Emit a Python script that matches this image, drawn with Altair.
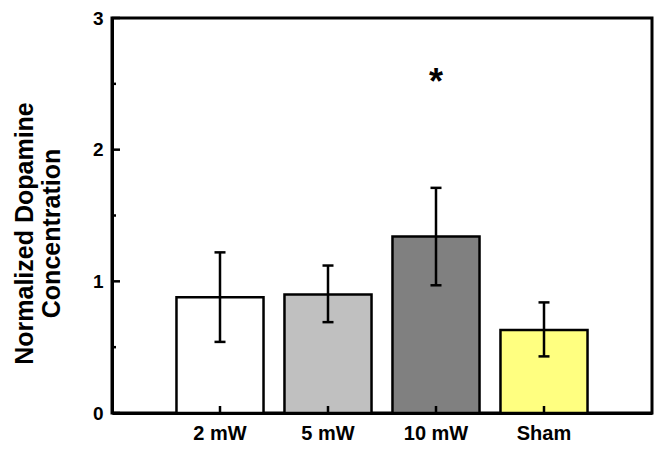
import altair as alt
import pandas as pd

categories = ["2 mW", "5 mW", "10 mW", "Sham"]
means = [0.88, 0.90, 1.34, 0.63]
err_hi = [1.22, 1.12, 1.71, 0.84]
err_lo = [0.54, 0.69, 0.97, 0.43]
colors = ["#ffffff", "#c0c0c0", "#808080", "#ffff80"]
star_cat = ["10 mW"]
star_y = [2.55]
y_major = [0, 1, 2, 3]
y_minor = [0.5, 1.5, 2.5]

FONT = "Liberation Sans"
W, H = 540, 395

df = pd.DataFrame({"cat": categories, "mean": means, "hi": err_hi, "lo": err_lo})
stars = pd.DataFrame({"cat": star_cat, "y": star_y})
majors = pd.DataFrame({"v": y_major})
minors = pd.DataFrame({"v": y_minor})

xenc = alt.X("cat:N", sort=categories,
             scale=alt.Scale(paddingInner=0.194, paddingOuter=0.597),
             axis=alt.Axis(title=None, ticks=False, labelFont=FONT, labelFontWeight="bold",
                           labelFontSize=20, labelColor="black", labelPadding=10,
                           labelAngle=0, domainColor="black", domainWidth=3))
yscale = alt.Scale(domain=[0, 3], nice=False)

bars = alt.Chart(df).mark_bar(stroke="black", strokeWidth=2.5).encode(
    x=xenc,
    y=alt.Y("mean:Q", scale=yscale,
            axis=alt.Axis(values=y_major, format="d", ticks=False, grid=False,
                          title=["Normalized Dopamine", "Concentration"],
                          titleFont=FONT, titleFontWeight="bold", titleFontSize=25,
                          titleColor="black", titleLineHeight=27, titlePadding=28,
                          titleY=215,
                          labelFont=FONT, labelFontWeight="bold", labelFontSize=19,
                          labelColor="black", labelPadding=9,
                          domainColor="black", domainWidth=3)),
    color=alt.Color("cat:N", sort=categories,
                    scale=alt.Scale(domain=categories, range=colors), legend=None),
)

xticks = alt.Chart(df).mark_rule(color="black", strokeWidth=2.5).encode(
    x=alt.X("cat:N", sort=categories),
    y=alt.value(H), y2=alt.value(H - 7),
)

err = alt.Chart(df).mark_rule(color="black", strokeWidth=2.5).encode(
    x=alt.X("cat:N", sort=categories),
    y=alt.Y("lo:Q", scale=yscale), y2="hi:Q",
)
cap_hi = alt.Chart(df).mark_tick(color="black", thickness=2.5, size=11, opacity=1).encode(
    x=alt.X("cat:N", sort=categories), y=alt.Y("hi:Q", scale=yscale),
)
cap_lo = alt.Chart(df).mark_tick(color="black", thickness=2.5, size=11, opacity=1).encode(
    x=alt.X("cat:N", sort=categories), y=alt.Y("lo:Q", scale=yscale),
)

ymaj = alt.Chart(majors).mark_rule(color="black", strokeWidth=2.5).encode(
    y=alt.Y("v:Q", scale=yscale), x=alt.value(0), x2=alt.value(8),
)
ymin = alt.Chart(minors).mark_rule(color="black", strokeWidth=2.5).encode(
    y=alt.Y("v:Q", scale=yscale), x=alt.value(0), x2=alt.value(4),
)

star = alt.Chart(stars).mark_text(text="*", font=FONT, fontWeight="bold", fontSize=36,
                                  color="black", baseline="middle", dy=6).encode(
    x=alt.X("cat:N", sort=categories), y=alt.Y("y:Q", scale=yscale),
)

chart = alt.layer(bars, xticks, err, cap_hi, cap_lo, ymaj, ymin, star).properties(
    width=W, height=H,
    autosize=alt.AutoSizeParams(type="none"),
    padding={"left": 104, "top": 10, "right": 2, "bottom": 30},
    background="white",
).configure_view(stroke="black", strokeWidth=3)

chart.save("out.html", embed_options={"renderer": "svg", "actions": False})
